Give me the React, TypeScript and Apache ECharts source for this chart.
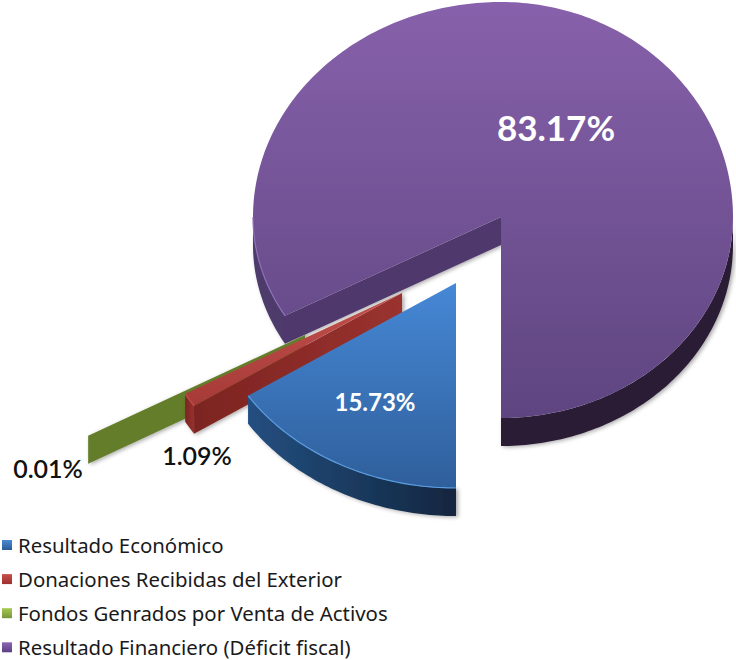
import React, { useEffect, useRef } from "react";
import * as echarts from "echarts";

const categories = [
  "Resultado Económico",
  "Donaciones Recibidas del Exterior",
  "Fondos Genrados por Venta de Activos",
  "Resultado Financiero (Déficit fiscal)",
];
const values = [15.73, 1.09, 0.01, 83.17];
const labels = ["15.73%", "1.09%", "0.01%", "83.17%"];

const START_DEG = 180;
const DEPTH = 28;
const G = (a: string, b: string, horizontal = false) =>
  new echarts.graphic.LinearGradient(0, 0, horizontal ? 1 : 0, horizontal ? 0 : 1, [
    { offset: 0, color: a },
    { offset: 1, color: b },
  ]);

// screen geometry of each exploded slice: apex and the four half-axes of the tilted disc
const looks: any[] = [
  { ax: 456, ay: 283, rxL: 249, rxR: 249, ryT: 205, ryB: 205, top: G("#4688d6", "#2f5f9b"), wall: G("#234f80", "#12263f", true), wallRight: null, face: "#1f4670", rim: "#5a9ce0",
    lx: 375, ly: 401, font: "bold 24px Lato", fill: "#ffffff", legend: G("#4a8ad4", "#2a5c96") },
  { ax: 402, ay: 293, rxL: 249, rxR: 249, ryT: 205, ryB: 205, top: G("#c2504c", "#a63a37"), wall: G("#7c2421", "#9a322f", true), wallRight: null, face: G("#7c2421", "#9a322f", true), rim: "#c2504c",
    lx: 197, ly: 455, font: "600 25px Lato", fill: "#111111", legend: G("#c8504c", "#9c2f2c") },
  { ax: 305, ay: 335, rxL: 249, rxR: 249, ryT: 205, ryB: 205, top: G("#8cae3e", "#7f9f38"), wall: "#647d2c", wallRight: null, face: "#647d2c", rim: "#7f9f38",
    lx: 48, ly: 468, font: "600 25px Lato", fill: "#111111", legend: G("#a6c94e", "#76963a") },
  { ax: 501, ay: 217, rxL: 248, rxR: 232, ryT: 215, ryB: 201, top: G("#8761ab", "#5e4580"), wall: "#4e3a6c", wallRight: "#2b1c36", face: "#50386c", rim: "#8f70b8",
    lx: 556, ly: 127, font: "bold 35px Lato", fill: "#ffffff", legend: G("#8b66b0", "#5c3f82") },
];

const starts = values.map((_, i) => values.slice(0, i).reduce((a, b) => a + b, 0));

function point(k: any, deg: number, drop = 0): number[] {
  const r = (deg * Math.PI) / 180;
  const s = Math.sin(r);
  const c = Math.cos(r);
  return [k.ax + s * (s > 0 ? k.rxR : k.rxL), k.ay - c * (c > 0 ? k.ryT : k.ryB) + drop];
}

function arc(k: any, a: number, b: number, drop = 0): number[][] {
  const out: number[][] = [];
  const n = Math.max(2, Math.ceil(Math.abs(b - a)));
  for (let i = 0; i <= n; i++) out.push(point(k, a + ((b - a) * i) / n, drop));
  return out;
}

function renderSlice(idx: number) {
  return (_: any, api: any) => {
    const k = looks[idx];
    const a0 = START_DEG + api.value(1) * 3.6;
    const a1 = a0 + api.value(0) * 3.6;
    const children: any[] = [];
    const apex = [k.ax, k.ay];
    const shadow = { shadowBlur: 4, shadowOffsetX: 2, shadowOffsetY: 1, shadowColor: "rgba(0,0,0,0.35)" };

    // visible outer wall: the part of the rim on the near half of the disc
    const spans: number[][] = [];
    for (const [lo, hi] of [[90, 270], [450, 630]]) {
      const x = Math.max(a0, lo);
      const y = Math.min(a1, hi);
      if (y > x) spans.push([x, y]);
    }
    for (const [x, y] of spans) {
      children.push({
        type: "polygon",
        shape: { points: [...arc(k, x, y), ...arc(k, y, x, DEPTH)] },
        style: { fill: x >= 450 && k.wallRight ? k.wallRight : k.wall, ...shadow },
      });
    }
    // radial face on the leading edge
    const o = point(k, a0);
    if (Math.abs(o[0] - apex[0]) > 1) {
      children.push({
        type: "polygon",
        shape: { points: [apex, o, [o[0], o[1] + DEPTH], [apex[0], apex[1] + DEPTH]] },
        style: { fill: k.face, ...shadow },
      });
    }
    // top face
    children.push({
      type: "polygon",
      shape: { points: [apex, ...arc(k, a0, a1)] },
      style: { fill: k.top },
    });
    for (const [x, y] of spans) {
      if (x >= 450) continue;
      children.push({
        type: "polyline",
        shape: { points: arc(k, x, y) },
        style: { stroke: k.rim, lineWidth: 1.2, fill: "none" },
      });
    }
    children.push({
      type: "text",
      style: { text: labels[idx], x: k.lx, y: k.ly, fill: k.fill, font: k.font, align: "center", verticalAlign: "middle" },
    });
    return { type: "group", children };
  };
}

export default function App() {
  const ref = useRef<HTMLDivElement>(null);
  useEffect(() => {
    document.body.style.margin = "0";
    const chart = echarts.init(ref.current!, undefined, { renderer: "svg" });
    const paintOrder = [3, 2, 1, 0];
    chart.setOption({
      animation: false,
      backgroundColor: "#ffffff",
      legend: {
        orient: "vertical",
        left: 2,
        top: 535,
        height: 150,
        data: categories,
        icon: "rect",
        itemWidth: 10,
        itemHeight: 10,
        itemGap: 14.1,
        selectedMode: false,
        padding: 0,
        textStyle: { fontFamily: "Noto Sans", fontSize: 20.4, lineHeight: 20, color: "#1a1a1a", padding: [0, 0, 0, 1] },
      },
      series: paintOrder.map((i) => ({
        type: "custom",
        name: categories[i],
        coordinateSystem: "none",
        itemStyle: { color: looks[i].legend },
        renderItem: renderSlice(i),
        data: [[values[i], starts[i]]],
        silent: true,
      })),
    });
    return () => chart.dispose();
  }, []);
  return <div ref={ref} style={{ position: "absolute", left: 0, top: 0, width: 736, height: 660 }} />;
}
